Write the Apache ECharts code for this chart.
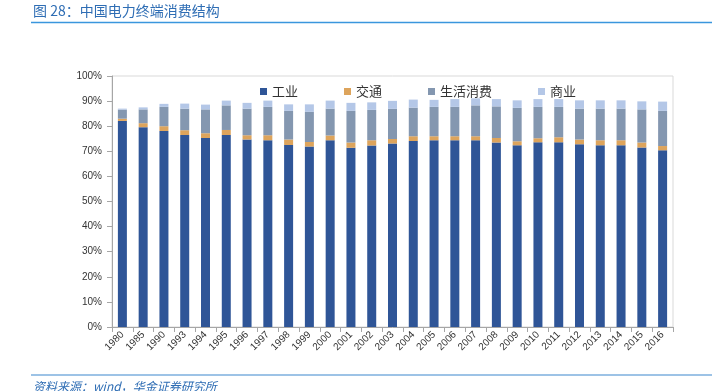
<!DOCTYPE html>
<html>
<head>
<meta charset="utf-8">
<script src="https://cdn.jsdelivr.net/npm/echarts@6/dist/echarts.min.js"></script>
<style>
    html, body { margin: 0; padding: 0; background: #fff; }
    #chart { width: 727px; height: 391px; }
</style>
</head>
<body>
<div id="chart"></div>
<script>
// 年份
const years = ['1980', '1985', '1990', '1993', '1994', '1995', '1996', '1997', '1998', '1999',
    '2000', '2001', '2002', '2003', '2004', '2005', '2006', '2007', '2008', '2009',
    '2010', '2011', '2012', '2013', '2014', '2015', '2016'];

// 各部分占比 (%)
const industry = [82.1, 79.6, 78.1, 76.5, 75.3, 76.5, 74.7, 74.4, 72.5, 71.9,
    74.4, 71.4, 72.3, 73.1, 74.1, 74.4, 74.4, 74.4, 73.5, 72.4,
    73.6, 73.6, 72.8, 72.4, 72.4, 71.5, 70.4];
const transport = [0.9, 1.6, 1.9, 1.9, 1.9, 2.0, 1.7, 2.0, 2.2, 1.8,
    1.9, 2.1, 2.1, 1.8, 1.9, 1.6, 1.6, 1.6, 1.8, 1.6,
    1.6, 2.0, 1.9, 2.0, 2.0, 2.0, 1.7];
const residential = [3.6, 5.5, 7.7, 8.6, 9.5, 9.8, 10.6, 11.3, 11.4, 12.0,
    10.7, 12.6, 12.1, 12.0, 11.4, 11.7, 11.7, 12.3, 12.6, 13.3,
    12.5, 12.1, 12.3, 12.6, 12.6, 13.2, 14.0];
const commercial = [0.4, 0.8, 1.2, 2.0, 1.9, 1.9, 2.3, 2.5, 2.6, 3.0,
    3.2, 3.2, 3.0, 3.2, 3.2, 2.8, 3.1, 2.8, 2.9, 3.0,
    3.1, 3.1, 3.3, 3.3, 3.3, 3.2, 3.7];

const yTicks = [0, 10, 20, 30, 40, 50, 60, 70, 80, 90, 100];

const myEcharts = echarts.init(document.getElementById('chart'));

const barSeries = (name, data, color) => ({
    name: name,
    type: 'bar',
    stack: 'total',
    barWidth: 9,
    itemStyle: { color: color },
    emphasis: { disabled: true },
    data: data
});

const option = {
    backgroundColor: '#fff',
    animation: false,
    textStyle: { fontFamily: 'Arial, "Liberation Sans", "Noto Sans CJK SC", sans-serif' },
    graphic: [
        {
            type: 'text', left: 33, top: 4,
            style: { text: '图 28：中国电力终端消费结构', fill: '#2E6DB4', fontSize: 14,
                fontFamily: '"Noto Sans CJK SC", sans-serif' }
        },
        {
            type: 'line', shape: { x1: 31, y1: 22.5, x2: 712, y2: 22.5 },
            style: { stroke: '#3A96DD', lineWidth: 1.5 }
        },
        {
            type: 'line', shape: { x1: 31, y1: 375, x2: 712, y2: 375 },
            style: { stroke: '#9DC3E6', lineWidth: 2 }
        },
        {
            type: 'text', left: 33, top: 380,
            style: { text: '资料来源：wind，华金证券研究所', fill: '#2E6DB4', fontSize: 12,
                fontStyle: 'italic', fontFamily: '"Noto Sans CJK SC", sans-serif' }
        }
    ],
    legend: {
        top: 80,
        left: 255,
        itemWidth: 7,
        itemHeight: 7,
        itemGap: 46,
        icon: 'rect',
        textStyle: { fontSize: 13, color: '#333', fontFamily: '"Noto Sans CJK SC", sans-serif' },
        data: ['工业', '交通', '生活消费', '商业']
    },
    grid: {
        left: 112,
        right: 54,
        top: 76,
        bottom: 64,
        show: true,
        borderColor: '#D9D9D9',
        borderWidth: 1
    },
    xAxis: {
        type: 'category',
        data: years,
        axisLine: { show: true, lineStyle: { color: '#A6A6A6' } },
        axisTick: { show: true, alignWithLabel: false, length: 5, lineStyle: { color: '#A6A6A6' } },
        axisLabel: { rotate: 45, fontSize: 10, color: '#333', margin: 6, interval: 0 },
        splitLine: { show: false }
    },
    yAxis: {
        type: 'value',
        min: yTicks[0],
        max: yTicks[yTicks.length - 1],
        interval: 10,
        axisLine: { show: true, lineStyle: { color: '#A6A6A6' } },
        axisTick: { show: true, length: 5, lineStyle: { color: '#A6A6A6' } },
        axisLabel: { fontSize: 10, color: '#333', margin: 10, formatter: '{value}%' },
        splitLine: { show: false }
    },
    series: [
        barSeries('工业', industry, '#2F5597'),
        barSeries('交通', transport, '#DDA45C'),
        barSeries('生活消费', residential, '#8497B0'),
        barSeries('商业', commercial, '#B4C7E7')
    ]
};

myEcharts.setOption(option);
</script>
</body>
</html>
